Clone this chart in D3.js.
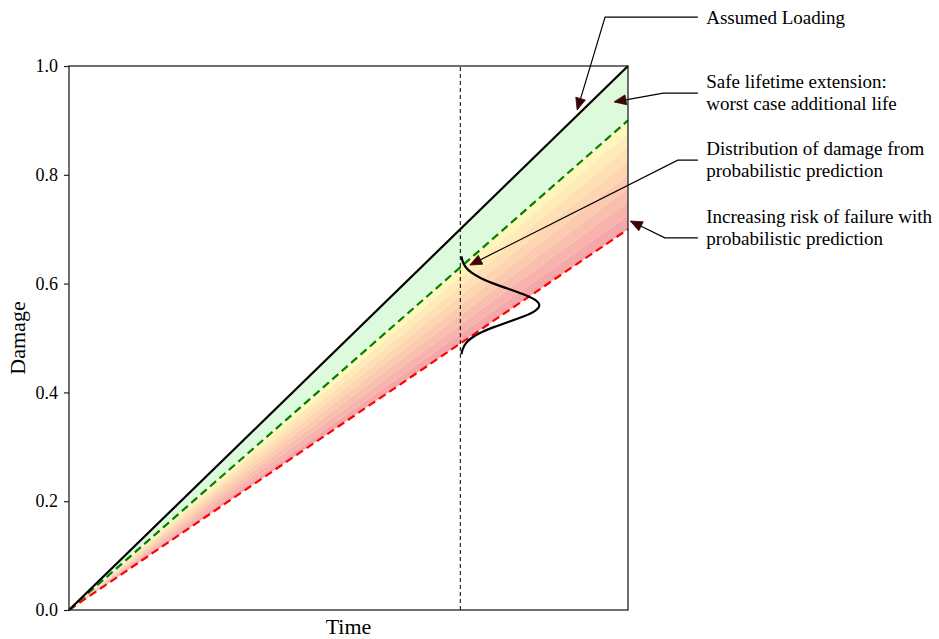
<!DOCTYPE html>
<html>
<head>
<meta charset="utf-8">
<script src="https://cdn.jsdelivr.net/npm/d3@7"></script>
<style>
  html, body { margin: 0; padding: 0; background: #fff; }
  svg { display: block; font-family: "Liberation Serif", "Times New Roman", serif; }
</style>
</head>
<body>
<svg id="chart" width="939" height="639"></svg>
<script>
// ---- data ----
const timeDomain = [0, 1];
const damageDomain = [0, 1];
const yTicks = [0.0, 0.2, 0.4, 0.6, 0.8, 1.0];

// damage at end of the time window for each reference line (all start at 0)
const assumedLoadingEnd = 1.0;   // black solid
const safeBoundEnd = 0.9;        // green dashed
const riskBoundEnd = 0.7;        // red dashed
const riskBandCount = 8;

// inspection time (vertical dashed line)
const inspectionTime = 0.7;

// predicted damage distribution at inspection time
const distDamage = [0.47, 0.48, 0.49, 0.50, 0.51, 0.52, 0.53, 0.54, 0.55, 0.56,
                    0.57, 0.58, 0.59, 0.60, 0.61, 0.62, 0.63, 0.64, 0.65];
const distWidth  = [0.002, 0.004, 0.009, 0.019, 0.036, 0.059, 0.087, 0.115, 0.136, 0.144,
                    0.136, 0.115, 0.087, 0.059, 0.036, 0.019, 0.009, 0.004, 0.002];

// annotations (data coordinates; x beyond 1 sits right of the axes)
const annotationText = [
  ["Assumed Loading"],
  ["Safe lifetime extension:", "worst case additional life"],
  ["Distribution of damage from", "probabilistic prediction"],
  ["Increasing risk of failure with", "probabilistic prediction"]
];
const annotationTextY = [[1.090], [0.971, 0.932], [0.849, 0.809], [0.724, 0.684]];
const annotationLineY = [1.090, 0.950, 0.827, 0.684];
const annotationElbowX = [0.959, 1.063, 1.089, 1.066];
const annotationTip = [[0.909, 0.919], [0.975, 0.934], [0.717, 0.634], [1.004, 0.715]];
const annotationTextX = 1.14;
const annotationLineStartX = 1.125;

// ---- layout ----
const svg = d3.select("#chart");
const margin = { left: 69, right: 311, top: 66, bottom: 29 };
const W = 939, H = 639;
const x = d3.scaleLinear().domain(timeDomain).range([margin.left, W - margin.right]);
const y = d3.scaleLinear().domain(damageDomain).range([H - margin.bottom, margin.top]);

const g = svg.append("g");

// light green region between assumed loading and safe bound
const ramp = (end) => (t) => end * t;
const areaBetween = (upper, lower) => d3.area()
  .x(t => x(t))
  .y0(t => y(lower(t)))
  .y1(t => y(upper(t)));

g.append("path")
  .datum(timeDomain)
  .attr("d", areaBetween(ramp(assumedLoadingEnd), ramp(safeBoundEnd)))
  .attr("fill", "rgb(221,250,221)");

// banded colour fill from safe bound down to risk bound
const bandColor = d3.scaleLinear()
  .domain([0, 0.45, 1])
  .range(["rgb(255,246,188)", "rgb(253,212,176)", "rgb(245,168,170)"])
  .interpolate(d3.interpolateRgb);
const bandEdges = d3.range(riskBandCount + 1)
  .map(i => safeBoundEnd + (riskBoundEnd - safeBoundEnd) * i / riskBandCount);
for (let i = 0; i < riskBandCount; i++) {
  g.append("path")
    .datum(timeDomain)
    .attr("d", areaBetween(ramp(bandEdges[i]), ramp(bandEdges[i + 1])))
    .attr("fill", bandColor(i / (riskBandCount - 1)));
}

// inspection time marker
g.append("line")
  .attr("x1", x(inspectionTime)).attr("x2", x(inspectionTime))
  .attr("y1", y(damageDomain[0])).attr("y2", y(damageDomain[1]))
  .attr("stroke", "#000").attr("stroke-width", 1)
  .attr("stroke-dasharray", "4,3");

// reference lines
const line = d3.line().x(d => x(d[0])).y(d => y(d[1]));
g.append("path")
  .datum(timeDomain.map(t => [t, ramp(riskBoundEnd)(t)]))
  .attr("d", line).attr("fill", "none")
  .attr("stroke", "#ff0000").attr("stroke-width", 2.2)
  .attr("stroke-dasharray", "8,4.5");
g.append("path")
  .datum(timeDomain.map(t => [t, ramp(safeBoundEnd)(t)]))
  .attr("d", line).attr("fill", "none")
  .attr("stroke", "#008000").attr("stroke-width", 2.2)
  .attr("stroke-dasharray", "8,4.5");
g.append("path")
  .datum(timeDomain.map(t => [t, ramp(assumedLoadingEnd)(t)]))
  .attr("d", line).attr("fill", "none")
  .attr("stroke", "#000").attr("stroke-width", 2.2);

// damage distribution at inspection time
g.append("path")
  .datum(distDamage.map((d, i) => [inspectionTime + distWidth[i], d]))
  .attr("d", d3.line().x(d => x(d[0])).y(d => y(d[1])).curve(d3.curveBasis))
  .attr("fill", "none").attr("stroke", "#000").attr("stroke-width", 2.2);

// axes frame
const frame = svg.append("g");
frame.append("rect")
  .attr("x", x(0)).attr("y", y(1))
  .attr("width", x(1) - x(0)).attr("height", y(0) - y(1))
  .attr("fill", "none").attr("stroke", "#222").attr("stroke-width", 1.3);

const yAxis = d3.axisLeft(y).tickValues(yTicks).tickFormat(d3.format(".1f")).tickSize(5).tickPadding(6);
const ya = frame.append("g").attr("transform", `translate(${x(0)},0)`).call(yAxis);
ya.select(".domain").remove();
ya.selectAll("line").attr("stroke", "#222").attr("stroke-width", 1.2);
ya.selectAll("text").attr("font-family", "Liberation Serif, serif").attr("font-size", 18).attr("fill", "#000");

// axis titles
svg.append("text")
  .attr("x", (x(0) + x(1)) / 2).attr("y", H - 5)
  .attr("text-anchor", "middle").attr("font-size", 22).text("Time");
svg.append("text")
  .attr("transform", `translate(25,${(y(0) + y(1)) / 2}) rotate(-90)`)
  .attr("text-anchor", "middle").attr("font-size", 22).text("Damage");

// annotations with elbow connectors and filled arrowheads
const ann = svg.append("g");
const headLen = 12, headHalf = 5;
annotationText.forEach((lines, k) => {
  lines.forEach((t, j) => {
    ann.append("text")
      .attr("x", x(annotationTextX)).attr("y", y(annotationTextY[k][j]))
      .attr("dy", "0.35em").attr("font-size", 19).text(t);
  });
  const start = [x(annotationLineStartX), y(annotationLineY[k])];
  const elbow = [x(annotationElbowX[k]), y(annotationLineY[k])];
  const tip = [x(annotationTip[k][0]), y(annotationTip[k][1])];
  const dx = tip[0] - elbow[0], dy = tip[1] - elbow[1];
  const len = Math.hypot(dx, dy);
  const ux = dx / len, uy = dy / len;
  const base = [tip[0] - ux * headLen, tip[1] - uy * headLen];
  ann.append("path")
    .attr("d", d3.line()([start, elbow, base]))
    .attr("fill", "none").attr("stroke", "#000").attr("stroke-width", 1.2);
  ann.append("path")
    .attr("d", d3.line()([
      tip,
      [base[0] - uy * headHalf, base[1] + ux * headHalf],
      [base[0] + uy * headHalf, base[1] - ux * headHalf]
    ]) + "Z")
    .attr("fill", "#3a0508").attr("stroke", "#3a0508").attr("stroke-width", 0.8);
});
</script>
</body>
</html>
